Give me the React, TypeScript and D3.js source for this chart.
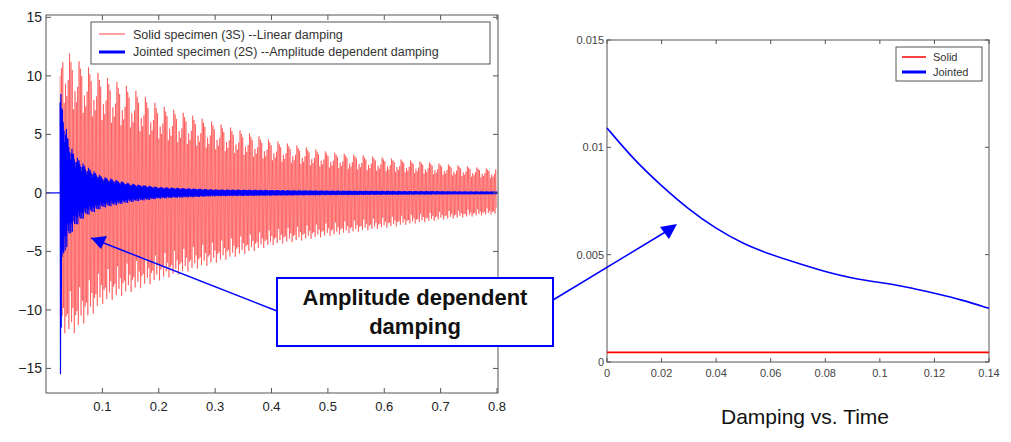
import React from "react";
import * as d3 from "d3";

// Left chart: envelope of the time signals (time s, amplitude)
const solidEnvT = [0.025, 0.03, 0.05, 0.1, 0.15, 0.2, 0.3, 0.4, 0.5, 0.6, 0.7, 0.8];
const solidEnvUp = [10, 12.5, 11.5, 10, 9, 7.5, 6, 4.5, 3.5, 3, 2.5, 2];
const solidEnvLo = [-10, -12, -12, -9.5, -8.5, -7.5, -6, -4.5, -3.7, -3, -2.3, -1.8];
const jointEnvT = [0.025, 0.03, 0.04, 0.05, 0.07, 0.1, 0.15, 0.2, 0.3, 0.5, 0.8];
const jointEnvUp = [9, 7, 4.5, 3.3, 2.3, 1.4, 0.8, 0.5, 0.3, 0.2, 0.12];
const jointEnvLo = [-15.5, -6, -4, -3, -2, -1.3, -0.8, -0.5, -0.3, -0.2, -0.12];
const jitter = [1, 0.82, 0.95, 0.7, 0.9, 0.86, 0.62, 1, 0.76, 0.92, 0.68, 0.97, 0.8, 0.88];
const leftXTicks = [0.1, 0.2, 0.3, 0.4, 0.5, 0.6, 0.7, 0.8];
const leftYTicks = [-15, -10, -5, 0, 5, 10, 15];

// Right chart: damping vs time
const dampT = [0, 0.01, 0.02, 0.03, 0.04, 0.05, 0.06, 0.07, 0.08, 0.09, 0.1, 0.11, 0.12, 0.13, 0.14];
const dampJointed = [0.0109, 0.0094, 0.0082, 0.0071, 0.0062, 0.0055, 0.0050, 0.0046, 0.0042, 0.0039, 0.0037, 0.0035, 0.0032, 0.0029, 0.0025];
const dampSolid = [0.00045, 0.00045];
const dampSolidT = [0, 0.14];
const rightXTicks = [0, 0.02, 0.04, 0.06, 0.08, 0.1, 0.12, 0.14];
const rightYTicks = [0, 0.005, 0.01, 0.015];

function signal(envT: number[], up: number[], lo: number[], step: number, phase: number) {
  const fu = d3.scaleLinear(envT, up).clamp(true);
  const fl = d3.scaleLinear(envT, lo).clamp(true);
  const pts: [number, number][] = [];
  let i = 0;
  for (let t = envT[0]; t <= envT[envT.length - 1]; t += step, i++) {
    const j = jitter[(i + phase) % jitter.length];
    const v = i % 2 === 0 ? fu(t) * j : fl(t) * jitter[(i * 3 + phase) % jitter.length];
    pts.push([t, i === 1 && lo[0] < -14 ? lo[0] : v]);
  }
  return pts;
}

export default function App() {
  const font = "'Liberation Sans', Arial, sans-serif";
  const L = { l: 46, r: 498, t: 15, b: 393 };
  const lx = d3.scaleLinear([0, 0.8], [L.l, 497]);
  const ly = d3.scaleLinear([-17.1, 15.2], [L.b, L.t]);
  const line = d3.line<[number, number]>().x(d => lx(d[0])).y(d => ly(d[1]));
  const red = signal(solidEnvT, solidEnvUp, solidEnvLo, 0.0012, 0);
  const blue = signal(jointEnvT, jointEnvUp, jointEnvLo, 0.0007, 5);

  const R = { l: 607, r: 989, t: 40, b: 362 };
  const rx = d3.scaleLinear([0, 0.14], [R.l, R.r]);
  const ry = d3.scaleLinear([0, 0.015], [R.b, R.t]);
  const rline = d3.line<number>().x((_, i) => rx(dampT[i])).y(d => ry(d)).curve(d3.curveBasis);

  return (
    <svg width={1011} height={442} style={{ position: "absolute", left: 0, top: 0, background: "#fff" }} fontFamily={font}>
      {/* Left chart */}
      <rect x={L.l} y={L.t} width={L.r - L.l} height={L.b - L.t} fill="none" stroke="#555" strokeWidth={1} />
      <path d={line(red)!} fill="none" stroke="#ff2a2a" strokeWidth={0.7} strokeOpacity={0.75} />
      <path d={line(blue)!} fill="none" stroke="#0000ff" strokeWidth={1.2} />
      <line x1={L.l} x2={lx(0.025)} y1={ly(0)} y2={ly(0)} stroke="#0000ff" strokeWidth={1.2} />
      {leftXTicks.map(t => (
        <g key={t}>
          <line x1={lx(t)} x2={lx(t)} y1={L.b} y2={L.b - 5} stroke="#555" />
          <line x1={lx(t)} x2={lx(t)} y1={L.t} y2={L.t + 5} stroke="#555" />
          <text x={lx(t)} y={411} textAnchor="middle" fontSize={13} fill="#222">{t}</text>
        </g>
      ))}
      {leftYTicks.map(t => (
        <g key={t}>
          <line x1={L.l} x2={L.l + 5} y1={ly(t)} y2={ly(t)} stroke="#555" />
          <line x1={L.r} x2={L.r - 5} y1={ly(t)} y2={ly(t)} stroke="#555" />
          <text x={L.l - 4} y={ly(t) + 5} textAnchor="end" fontSize={14} fill="#222">{t < 0 ? "\u2212" + -t : t}</text>
        </g>
      ))}
      <rect x={91} y={22} width={399} height={42} fill="#fff" stroke="#555" />
      <line x1={99} x2={125} y1={34} y2={34} stroke="#ff4040" strokeWidth={1} />
      <line x1={99} x2={125} y1={52} y2={52} stroke="#0000ff" strokeWidth={3} />
      <text x={133} y={38.5} fontSize={12.5} fill="#333">Solid specimen (3S) --Linear damping</text>
      <text x={133} y={56} fontSize={12.5} fill="#333">Jointed specimen (2S) --Amplitude dependent damping</text>

      {/* Right chart */}
      <rect x={R.l} y={R.t} width={R.r - R.l} height={R.b - R.t} fill="none" stroke="#555" />
      {rightXTicks.map(t => (
        <g key={t}>
          <line x1={rx(t)} x2={rx(t)} y1={R.b} y2={R.b - 4} stroke="#555" />
          <line x1={rx(t)} x2={rx(t)} y1={R.t} y2={R.t + 4} stroke="#555" />
          <text x={rx(t)} y={377} textAnchor="middle" fontSize={11} fill="#444">{t}</text>
        </g>
      ))}
      {rightYTicks.map(t => (
        <g key={t}>
          <line x1={R.l} x2={R.l + 4} y1={ry(t)} y2={ry(t)} stroke="#555" />
          <line x1={R.r} x2={R.r - 4} y1={ry(t)} y2={ry(t)} stroke="#555" />
          <text x={R.l - 3} y={ry(t) + 4} textAnchor="end" fontSize={11} fill="#444">{t}</text>
        </g>
      ))}
      <path d={rline(dampJointed)!} fill="none" stroke="#0000ff" strokeWidth={1.6} />
      <line x1={rx(dampSolidT[0])} x2={rx(dampSolidT[1])} y1={ry(dampSolid[0])} y2={ry(dampSolid[1])} stroke="#ff0000" strokeWidth={1.6} />
      <rect x={896} y={47} width={86} height={34} fill="#fff" stroke="#555" />
      <line x1={902} x2={926} y1={57} y2={57} stroke="#ff0000" strokeWidth={1.5} />
      <line x1={902} x2={926} y1={72} y2={72} stroke="#0000ff" strokeWidth={3} />
      <text x={933} y={61} fontSize={11} fill="#333">Solid</text>
      <text x={933} y={76} fontSize={11} fill="#333">Jointed</text>
      <text x={805} y={424} textAnchor="middle" fontSize={21} fill="#111">Damping vs. Time</text>

      {/* Annotation */}
      <line x1={277} y1={311} x2={91} y2={238} stroke="#0000ff" strokeWidth={1.5} />
      <path d="M91,238 L107,236 L101,249 z" fill="#0000ff" />
      <line x1={553} y1={300} x2={672} y2={228} stroke="#0000ff" strokeWidth={1.5} />
      <path d="M677,224 L660,227 L669,239 z" fill="#0000ff" />
      <rect x={277} y={278} width={276} height={68} fill="#fff" stroke="#0000ff" strokeWidth={2} />
      <text x={415} y={305} textAnchor="middle" fontSize={22} fontWeight="bold" fill="#111">Amplitude dependent</text>
      <text x={415} y={334} textAnchor="middle" fontSize={22} fontWeight="bold" fill="#111">damping</text>
    </svg>
  );
}
